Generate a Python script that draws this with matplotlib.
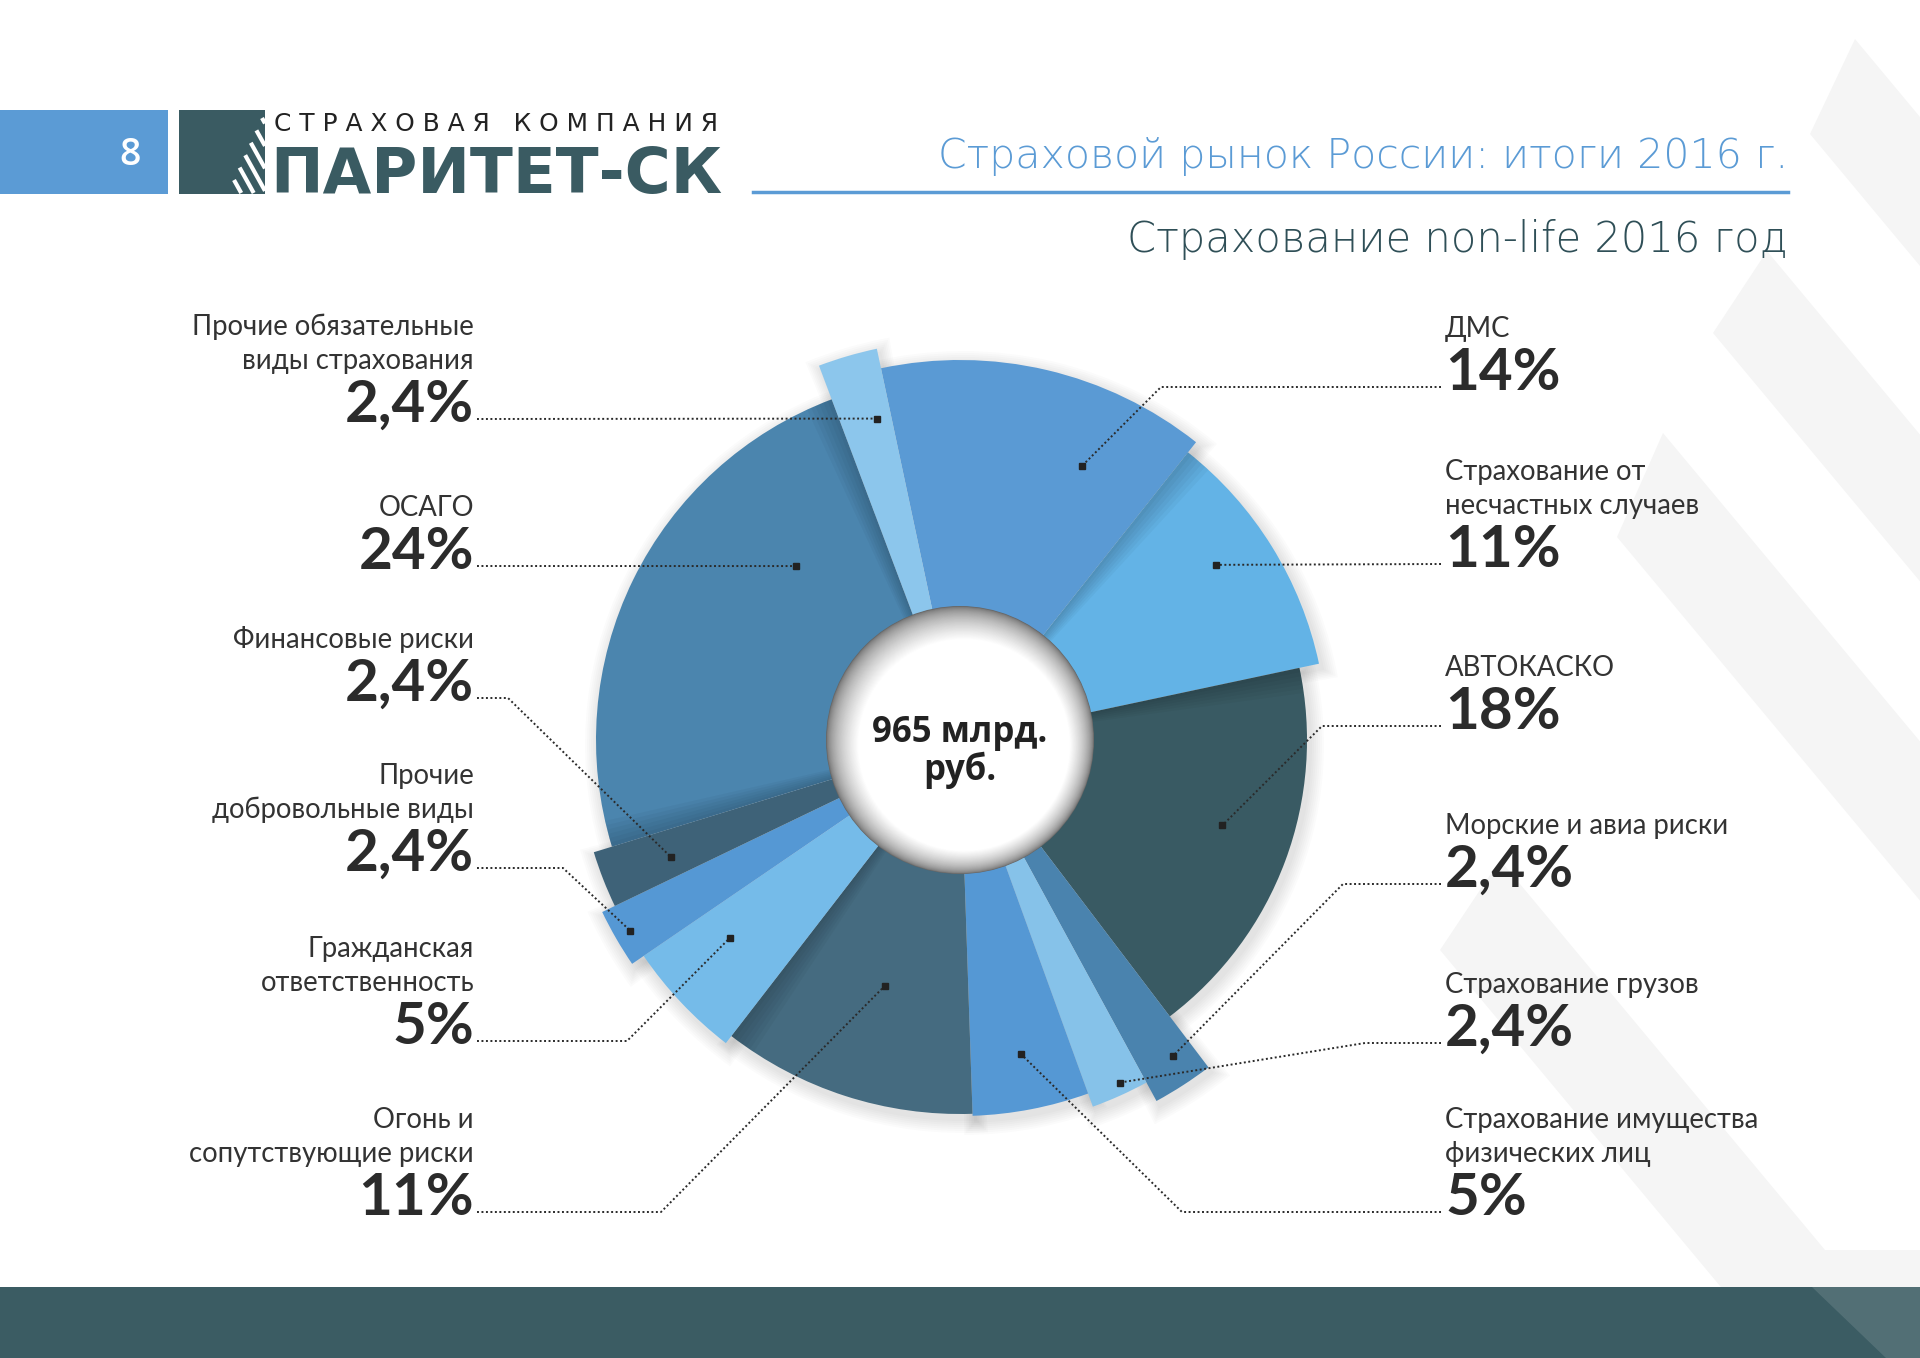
import numpy as np
import matplotlib
matplotlib.use("Agg")
import matplotlib.pyplot as plt
from matplotlib.patches import Wedge, Circle, Rectangle, Polygon
from matplotlib import font_manager as fm

# ---------------- data ----------------
categories = [
    "ДМС",
    "Страхование от\nнесчастных случаев",
    "АВТОКАСКО",
    "Морские и авиа риски",
    "Страхование грузов",
    "Страхование имущества\nфизических лиц",
    "Огонь и\nсопутствующие риски",
    "Гражданская\nответственность",
    "Прочие\nдобровольные виды",
    "Финансовые риски",
    "ОСАГО",
    "Прочие обязательные\nвиды страхования",
]
shares = [14, 11, 18, 2.4, 2.4, 5, 11, 5, 2.4, 2.4, 24, 2.4]
share_labels = ["14%", "11%", "18%", "2,4%", "2,4%", "5%", "11%", "5%", "2,4%", "2,4%", "24%", "2,4%"]
total_label = "965 млрд.\nруб."
title = "Страховой рынок России: итоги 2016 г."
subtitle = "Страхование non-life 2016 год"
page_no = "8"
logo_top = "С Т Р А Х О В А Я   К О М П А Н И Я"
logo_name = "ПАРИТЕТ-СК"

# ---------------- layout / style ----------------
W, H = 1920, 1358
CX, CY = 960, 740
HOLE_R = 134
START_ANGLE = -12  # clockwise from 12 o'clock
outer_r = [380, 367, 347, 411, 390, 376, 374, 383, 397, 383, 364, 400]
colors = ["#5a9ad4", "#63b3e6", "#395a63", "#4a83ae", "#86c2e9", "#5598d4",
          "#456b80", "#75bbe9", "#5598d4", "#3e6278", "#4b85ae", "#8cc6ec"]
side = ["R", "R", "R", "R", "R", "R", "L", "L", "L", "L", "L", "L"]
line_y = [387, 564, 726, 884, 1043, 1212, 1212, 1041, 868, 698, 566, 419]
elbow_x = [1161, None, 1322, 1343, 1365, 1182, 661, 627, 563, 508, None, None]
# marker: (angle clockwise from top, radius)
marker_pos = [(24, 300), (55.6, 310), (108, 276), (146, 381), (155, 378), (169, 320),
              (197, 257), (229.3, 304), (240, 381), (248, 312), (316.7, 239), (345.5, 332)]
# (boundary index, neighbour index, direction) for side shadows
side_shadows = [(1, 1, +1), (10, 10, +1), (11, 10, -1), (7, 6, -1), (2, 2, +1)]

DARK = "#3a5b62"
BLUE = "#5b9bd5"

names = {f.name for f in fm.fontManager.ttflist}
if "Liberation Sans Narrow" in names:
    narrow = "Liberation Sans Narrow"
elif any(f.name == "DejaVu Sans" and f.stretch == "condensed" for f in fm.fontManager.ttflist):
    narrow = "DejaVu Sans"
else:
    narrow = "Roboto"
label_font = "Lato" if "Lato" in names else "Roboto"
pct_font = "Lato" if "Lato" in names else "DejaVu Sans"

fig = plt.figure(figsize=(19.2, 13.58), dpi=100)
ax = fig.add_axes([0, 0, 1, 1])
ax.set_xlim(0, W)
ax.set_ylim(H, 0)
ax.axis("off")
fig.patch.set_facecolor("white")

# background diagonal stripes
d = np.array([1.0, 1.2])
stripe_tips = [((1855, 39), (1810, 134)), ((1767, 251), (1713, 333)),
               ((1663, 433), (1617, 537)), ((1500, 860), (1440, 950))]
for p1, p2 in stripe_tips:
    p1, p2 = np.array(p1), np.array(p2)
    poly = [p1, p1 + 900 * d, p2 + 900 * d, p2]
    ax.add_patch(Polygon(poly, closed=True, fc="#f5f5f5", lw=0, zorder=0))
ax.add_patch(Polygon([(1776, 1250), (1920, 1250), (1920, 1287), (1812, 1287)],
                     closed=True, fc="#f5f5f5", lw=0, zorder=0))

# footer
ax.add_patch(Rectangle((0, 1287), W, H - 1287, fc="#3b5c63", lw=0, zorder=1))
ax.add_patch(Polygon([(1812, 1287), (1920, 1287), (1920, 1358), (1886, 1358)],
                     closed=True, fc="white", alpha=0.12, lw=0, zorder=1.5))

# header
ax.add_patch(Rectangle((0, 110), 168, 84, fc=BLUE, lw=0, zorder=2))
ax.text(130, 155, page_no, color="white", fontsize=27, ha="center", va="center",
        family="Open Sans", fontweight="semibold", zorder=3)
ax.add_patch(Rectangle((179, 110), 86, 84, fc=DARK, lw=0, zorder=2))
for s in np.linspace(0, 1, 6):
    px, py = 262 - 28 * s, 118 + 62 * s
    t = min((265 - px) / 1.0, (193 - py) / 1.8)
    ax.plot([px, px + t], [py, py + 1.8 * t], color="white", lw=3, zorder=3,
            solid_capstyle="butt")

t_logo_top = ax.text(274, 131, logo_top, ha="left", va="baseline", color="#222222",
                     fontsize=17, family="DejaVu Sans", zorder=3)
t_logo = ax.text(270, 193, logo_name, ha="left", va="baseline", color=DARK,
                 fontsize=60, family=narrow, fontweight="bold", zorder=3)
t_title = ax.text(1788, 168, title, ha="right", va="baseline", color=BLUE,
                  fontsize=44, family=narrow, fontweight="light", zorder=3)
ax.plot([753, 1788], [192, 192], color=BLUE, lw=2.5, zorder=3)
t_sub = ax.text(1788, 252, subtitle, ha="right", va="baseline", color="#2f4f57",
                fontsize=44, family=narrow, fontweight="light", zorder=3)

# ---------------- donut ----------------
edges = START_ANGLE + 360 * np.concatenate([[0], np.cumsum(shares)]) / np.sum(shares)

# soft outer shadows
for i in range(len(shares)):
    for k in range(1, 8):
        ax.add_patch(Wedge((CX + 3, CY + 5), outer_r[i] + 2 * k,
                           edges[i] - 90 - 0.25 * k, edges[i + 1] - 90 + 0.25 * k,
                           fc="black", alpha=0.015, lw=0, zorder=2))

for i in range(len(shares)):
    ax.add_patch(Wedge((CX, CY), outer_r[i], edges[i] - 90, edges[i + 1] - 90,
                       fc=colors[i], ec="none", lw=0, zorder=3))

# side shadows cast on neighbouring slices
for b, j, sgn in side_shadows:
    a0 = edges[b] - 90
    for k in range(1, 7):
        a1 = a0 + sgn * 0.7 * k
        ax.add_patch(Wedge((CX, CY), outer_r[j], min(a0, a1), max(a0, a1),
                           fc="black", alpha=0.03, lw=0, zorder=4))

# hole with inner shadow
n_steps = 45
for j in range(n_steps):
    t = j / (n_steps - 1)
    r = HOLE_R - 28 * t
    g = 0.40 + 0.60 * t ** 0.55
    ax.add_patch(Circle((CX + 4 * t, CY + 5 * t), r, fc=(g, g, g), lw=0, zorder=5))

ax.text(CX, 752, total_label, ha="center", va="center", fontsize=25, fontweight="bold",
        family="Open Sans", color="#222222", linespacing=1.0, zorder=6)

# ---------------- labels & leaders ----------------
for i in range(len(shares)):
    y = line_y[i]
    ang, rr = marker_pos[i]
    mx = CX + rr * np.sin(np.radians(ang))
    my = CY - rr * np.cos(np.radians(ang))
    if side[i] == "L":
        tx, ha, x0 = 474, "right", 477
    else:
        tx, ha, x0 = 1445, "left", 1441
    pts = [(x0, y)]
    if elbow_x[i] is not None:
        pts.append((elbow_x[i], y))
    pts.append((mx, my))
    xs, ys = zip(*pts)
    ax.plot(xs, ys, ls=(0, (1, 1.3)), color="#2a2a2a", lw=1.4, zorder=7)
    ax.plot(mx, my, marker="s", ms=5, color="#222222", zorder=8)
    ax.text(tx, y + 3, share_labels[i], ha=ha, va="baseline", fontsize=42,
            fontweight="bold", family=pct_font, color="#2b2b2b", zorder=7)
    for k, ln in enumerate(reversed(categories[i].split("\n"))):
        ax.text(tx, y - 50 - 34 * k, ln, ha=ha, va="baseline", fontsize=19.8,
                fontweight="normal", family=label_font, color="#333333", zorder=7)

# fit header texts to reference widths
fig.canvas.draw()
rend = fig.canvas.get_renderer()
for txt, width in [(t_logo_top, 445), (t_logo, 452), (t_title, 852), (t_sub, 661)]:
    bb = txt.get_window_extent(renderer=rend)
    txt.set_fontsize(txt.get_fontsize() * width / bb.width)

fig.savefig("out.png", dpi=100, facecolor="white")
